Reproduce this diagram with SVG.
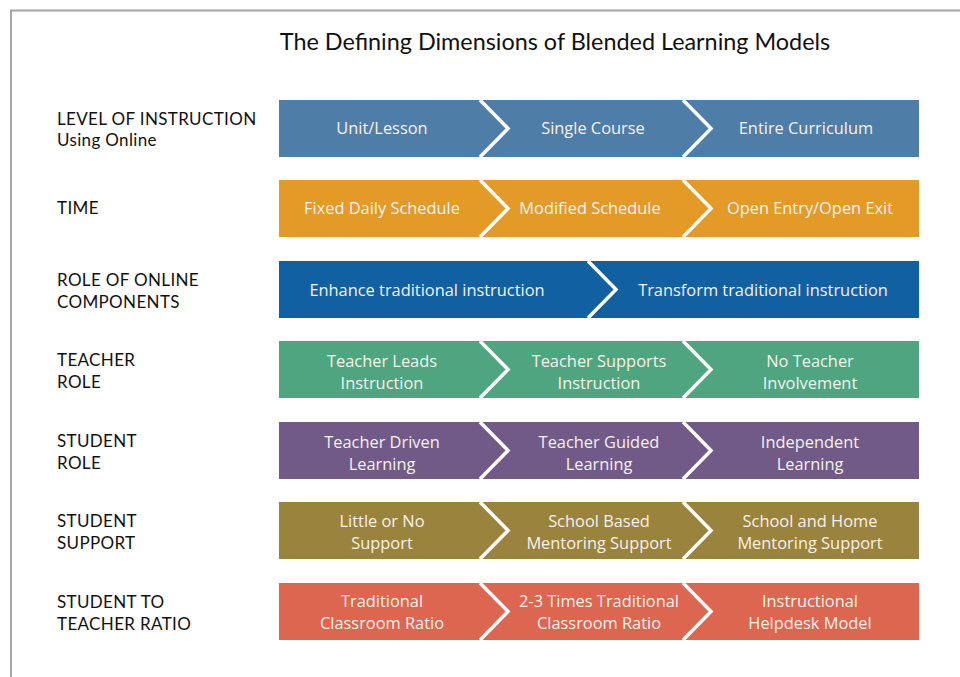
<svg xmlns="http://www.w3.org/2000/svg" width="960" height="677" viewBox="0 0 960 677">
<style>
.lbl{font-family:Lato,"Open Sans",sans-serif;font-size:17px;letter-spacing:0.35px;fill:#111}
.t{font-family:"Open Sans","Noto Sans",sans-serif;font-size:16.4px;fill:#f5f1ee;text-anchor:middle}
.ch{fill:none;stroke:#fff;stroke-width:3.5}
</style>
<rect x="0" y="0" width="960" height="677" fill="#fff"/>
<path d="M11 677 V10.5 H960" fill="none" stroke="#a6a6a6" stroke-width="2"/>
<text x="555" y="50" text-anchor="middle" style="font-family:Lato,'Open Sans',sans-serif;font-size:23.4px;fill:#111">The Defining Dimensions of Blended Learning Models</text>

<g id="row1">
<text class="lbl" x="57" y="125">LEVEL OF INSTRUCTION</text>
<text class="lbl" x="57" y="146">Using Online</text>
<rect x="279" y="100" width="640" height="57" fill="#4e7ea8"/>
<path class="ch" d="M480 100 L508 128.5 L480 157 M683 100 L711 128.5 L683 157"/>
<text class="t" x="382" y="134">Unit/Lesson</text>
<text class="t" x="593" y="134">Single Course</text>
<text class="t" x="806" y="134">Entire Curriculum</text>
</g>

<g id="row2">
<text class="lbl" x="57" y="214">TIME</text>
<rect x="279" y="180" width="640" height="57" fill="#e39a27"/>
<path class="ch" d="M480 180 L508 208.5 L480 237 M683 180 L711 208.5 L683 237"/>
<text class="t" x="382" y="214">Fixed Daily Schedule</text>
<text class="t" x="590" y="214">Modified Schedule</text>
<text class="t" x="810" y="214">Open Entry/Open Exit</text>
</g>

<g id="row3">
<text class="lbl" x="57" y="286">ROLE OF ONLINE</text>
<text class="lbl" x="57" y="308">COMPONENTS</text>
<rect x="279" y="261" width="640" height="57" fill="#1060a2"/>
<path class="ch" d="M588 261 L616 289.5 L588 318"/>
<text class="t" x="427" y="296">Enhance traditional instruction</text>
<text class="t" x="763" y="296">Transform traditional instruction</text>
</g>

<g id="row4">
<text class="lbl" x="57" y="366">TEACHER</text>
<text class="lbl" x="57" y="388">ROLE</text>
<rect x="279" y="341" width="640" height="57" fill="#4fa57f"/>
<path class="ch" d="M480 341 L508 369.5 L480 398 M683 341 L711 369.5 L683 398"/>
<text class="t" x="382" y="367">Teacher Leads</text>
<text class="t" x="382" y="389">Instruction</text>
<text class="t" x="599" y="367">Teacher Supports</text>
<text class="t" x="599" y="389">Instruction</text>
<text class="t" x="810" y="367">No Teacher</text>
<text class="t" x="810" y="389">Involvement</text>
</g>

<g id="row5">
<text class="lbl" x="57" y="447">STUDENT</text>
<text class="lbl" x="57" y="469">ROLE</text>
<rect x="279" y="422" width="640" height="57" fill="#715a87"/>
<path class="ch" d="M480 422 L508 450.5 L480 479 M683 422 L711 450.5 L683 479"/>
<text class="t" x="382" y="448">Teacher Driven</text>
<text class="t" x="382" y="470">Learning</text>
<text class="t" x="599" y="448">Teacher Guided</text>
<text class="t" x="599" y="470">Learning</text>
<text class="t" x="810" y="448">Independent</text>
<text class="t" x="810" y="470">Learning</text>
</g>

<g id="row6">
<text class="lbl" x="57" y="527">STUDENT</text>
<text class="lbl" x="57" y="549">SUPPORT</text>
<rect x="279" y="502" width="640" height="57" fill="#9a833c"/>
<path class="ch" d="M480 502 L508 530.5 L480 559 M683 502 L711 530.5 L683 559"/>
<text class="t" x="382" y="527">Little or No</text>
<text class="t" x="382" y="549">Support</text>
<text class="t" x="599" y="527">School Based</text>
<text class="t" x="599" y="549">Mentoring Support</text>
<text class="t" x="810" y="527">School and Home</text>
<text class="t" x="810" y="549">Mentoring Support</text>
</g>

<g id="row7">
<text class="lbl" x="57" y="608">STUDENT TO</text>
<text class="lbl" x="57" y="630">TEACHER RATIO</text>
<rect x="279" y="583" width="640" height="57" fill="#dc6650"/>
<path class="ch" d="M480 583 L508 611.5 L480 640 M683 583 L711 611.5 L683 640"/>
<text class="t" x="382" y="607">Traditional</text>
<text class="t" x="382" y="629">Classroom Ratio</text>
<text class="t" x="599" y="607">2-3 Times Traditional</text>
<text class="t" x="599" y="629">Classroom Ratio</text>
<text class="t" x="810" y="607">Instructional</text>
<text class="t" x="810" y="629">Helpdesk Model</text>
</g>
<g id="connectors"></g>
</svg>
